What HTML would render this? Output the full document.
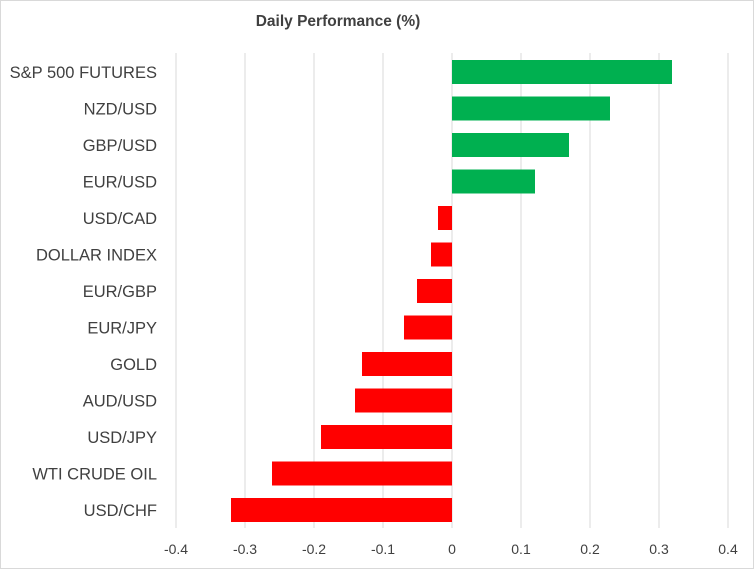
<!DOCTYPE html>
<html><head><style>
body{margin:0;background:#fff;}
svg{display:block;font-family:"Liberation Sans",sans-serif;}
</style></head><body>
<svg width="754" height="569" viewBox="0 0 754 569">
<rect x="0.5" y="0.5" width="753" height="568" fill="#fff" stroke="#d9d9d9"/>
<text x="338" y="26" text-anchor="middle" font-size="15.5" font-weight="bold" fill="#404040">Daily Performance (%)</text>
<g stroke="#d9d9d9" stroke-width="1">
<line x1="176" y1="53" x2="176" y2="528"/><line x1="245" y1="53" x2="245" y2="528"/>
<line x1="314" y1="53" x2="314" y2="528"/><line x1="383" y1="53" x2="383" y2="528"/>
<line x1="452" y1="53" x2="452" y2="528"/><line x1="521" y1="53" x2="521" y2="528"/>
<line x1="590" y1="53" x2="590" y2="528"/><line x1="659" y1="53" x2="659" y2="528"/>
<line x1="728" y1="53" x2="728" y2="528"/>
</g>
<g fill="#00B050">
<rect x="452" y="60" width="220" height="24"/>
<rect x="452" y="96.5" width="158" height="24"/>
<rect x="452" y="133" width="117" height="24"/>
<rect x="452" y="169.5" width="83" height="24"/>
</g>
<g fill="#FF0000">
<rect x="438" y="206" width="14" height="24"/>
<rect x="431" y="242.5" width="21" height="24"/>
<rect x="417" y="279" width="35" height="24"/>
<rect x="404" y="315.5" width="48" height="24"/>
<rect x="362" y="352" width="90" height="24"/>
<rect x="355" y="388.5" width="97" height="24"/>
<rect x="321" y="425" width="131" height="24"/>
<rect x="272" y="461.5" width="180" height="24"/>
<rect x="231" y="498" width="221" height="24"/>
</g>
<g font-size="16.5" fill="#404040" text-anchor="end">
<text x="157" y="78">S&amp;P 500 FUTURES</text>
<text x="157" y="114.5">NZD/USD</text>
<text x="157" y="151">GBP/USD</text>
<text x="157" y="187.5">EUR/USD</text>
<text x="157" y="224">USD/CAD</text>
<text x="157" y="260.5">DOLLAR INDEX</text>
<text x="157" y="297">EUR/GBP</text>
<text x="157" y="333.5">EUR/JPY</text>
<text x="157" y="370">GOLD</text>
<text x="157" y="406.5">AUD/USD</text>
<text x="157" y="443">USD/JPY</text>
<text x="157" y="479.5">WTI CRUDE OIL</text>
<text x="157" y="516">USD/CHF</text>
</g>
<g font-size="14" fill="#404040" text-anchor="middle">
<text x="176" y="554">-0.4</text><text x="245" y="554">-0.3</text>
<text x="314" y="554">-0.2</text><text x="383" y="554">-0.1</text>
<text x="452" y="554">0</text><text x="521" y="554">0.1</text>
<text x="590" y="554">0.2</text><text x="659" y="554">0.3</text>
<text x="728" y="554">0.4</text>
</g>
</svg>
</body></html>
